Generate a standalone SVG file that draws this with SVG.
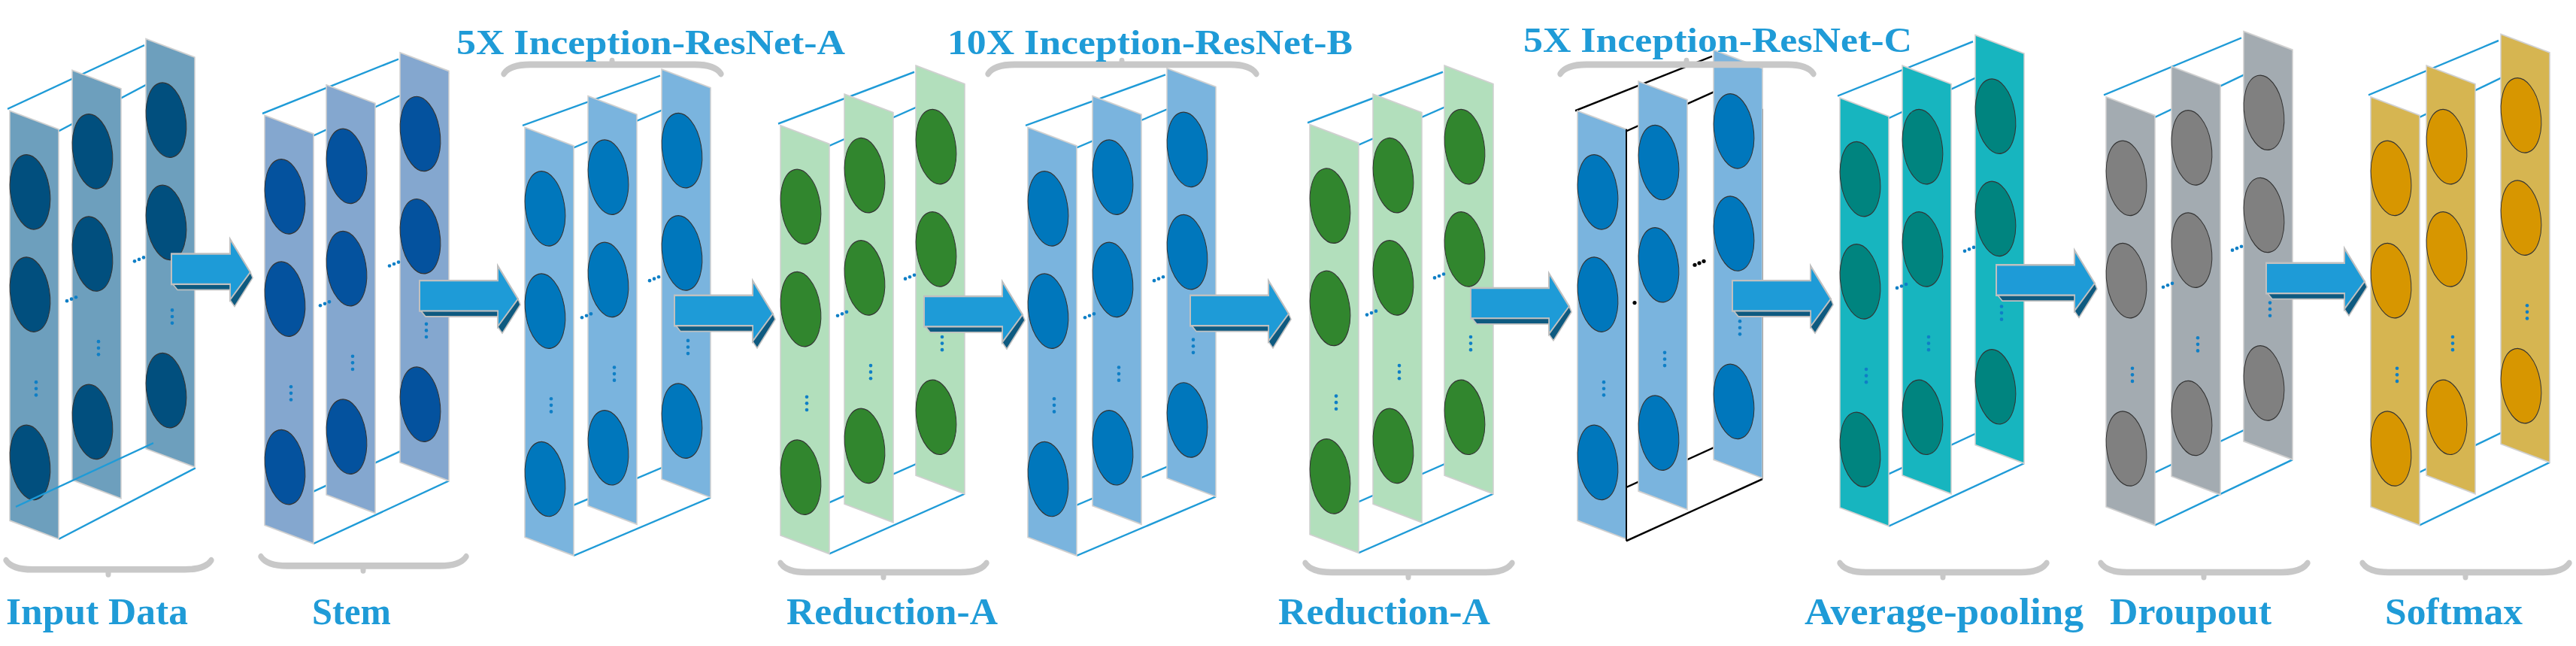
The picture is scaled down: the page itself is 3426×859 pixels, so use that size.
<svg xmlns="http://www.w3.org/2000/svg" xmlns:xlink="http://www.w3.org/1999/xlink" width="3426" height="859" viewBox="0 0 3426 859">
<style>
.lbl{font-family:"Liberation Serif","Times New Roman",serif;font-weight:bold;fill:#1f9bd7;font-size:50px}
.top{font-size:47px}
.wire{stroke:#1f9bd7;stroke-width:2;fill:none}
.wk{stroke:#000;stroke-width:2;fill:none}
.br{stroke:#c8c8c8;stroke-width:7;fill:none;stroke-linecap:round}
.al{fill:#1e9bd7;stroke:#c0c0c0;stroke-width:2}
.ad{fill:#0e5a80;stroke:#c0c0c0;stroke-width:1.5}
</style>
<defs>
<g id="col">
<polygon points="0,0 65,20 65,464 0,444" stroke="#d0d0d0" stroke-width="1.5"/>
<g fill="currentColor" stroke="#333" stroke-width="1">
<ellipse cx="27" cy="88" rx="26" ry="41" transform="rotate(-12 27 88)"/>
<ellipse cx="27" cy="199" rx="26" ry="41" transform="rotate(-12 27 199)"/>
<ellipse cx="27" cy="381" rx="26" ry="41" transform="rotate(-12 27 381)"/>
</g>
<g fill="#0f7fc6"><ellipse cx="35" cy="294" rx="2.3" ry="1.9"/><ellipse cx="35" cy="301" rx="2.3" ry="1.9"/><ellipse cx="35" cy="308" rx="2.3" ry="1.9"/></g>
</g>
<g id="hd" fill="#0f7fc6"><ellipse cx="0" cy="0" rx="2.3" ry="1.9"/><ellipse cx="6" cy="-2" rx="2.3" ry="1.9"/><ellipse cx="12" cy="-4" rx="2.3" ry="1.9"/></g>
<g id="arr">
<polygon class="al" points="0,0 104,0 104,-16 131,20 104,50 104,33 0,33"/>
<polygon class="ad" points="2,33 104,33 104,39 8,39"/>
<polygon class="ad" points="131,20 134,26 110,57 104,50"/>
</g>
<g id="arrS">
<polygon class="al" points="0,0 78,0 78,-16 105,20 78,50 78,33 0,33"/>
<polygon class="ad" points="2,33 78,33 78,39 8,39"/>
<polygon class="ad" points="105,20 108,26 84,57 78,50"/>
</g>
</defs>

<g transform="scale(1,1.2274)">
<!-- Input Data -->
<g id="input" transform="translate(13,120)">
<g class="wire"><line x1="-3" y1="-2" x2="179" y2="-71"/><line x1="65" y1="22" x2="246" y2="-56"/><line x1="65" y1="464" x2="247" y2="387"/></g>
<use href="#col" x="181" y="-78" fill="#6d9fbd" color="#014f7e"/>
<use href="#hd" x="166" y="163"/>
<use href="#col" x="83" y="-44" fill="#6d9fbd" color="#014f7e"/>
<use href="#hd" x="76" y="206"/>
<use href="#col" x="0" y="0" fill="#6d9fbd" color="#014f7e"/>
<line class="wire" x1="8" y1="429" x2="191" y2="360"/>
</g>
<!-- Stem -->
<g id="stem" transform="translate(352,125)">
<g class="wire"><line x1="-3" y1="-2" x2="178" y2="-61"/><line x1="65" y1="22" x2="245" y2="-46"/><line x1="65" y1="464" x2="245" y2="396"/><line x1="8" y1="429" x2="188" y2="361"/></g>
<use href="#col" x="180" y="-68" fill="#84a7cf" color="#04529e"/>
<use href="#hd" x="166" y="163"/>
<use href="#col" x="82" y="-33" fill="#84a7cf" color="#04529e"/>
<use href="#hd" x="74" y="206"/>
<use href="#col" x="0" y="0" fill="#84a7cf" color="#04529e"/>
</g>
<!-- IR-A -->
<g id="irA" transform="translate(698,138)">
<g class="wire"><line x1="-3" y1="-2" x2="180" y2="-56"/><line x1="65" y1="22" x2="247" y2="-41"/><line x1="65" y1="464" x2="247" y2="401"/><line x1="8" y1="429" x2="190" y2="366"/></g>
<use href="#col" x="182" y="-63" fill="#7ab4de" color="#0077bc"/>
<use href="#hd" x="166" y="166"/>
<use href="#col" x="84" y="-34" fill="#7ab4de" color="#0077bc"/>
<use href="#hd" x="76" y="206"/>
<use href="#col" x="0" y="0" fill="#7ab4de" color="#0077bc"/>
</g>
<!-- Reduction-A -->
<g id="redA1" transform="translate(1038,136)">
<g class="wire"><line x1="-3" y1="-2" x2="178" y2="-58"/><line x1="65" y1="22" x2="245" y2="-43"/><line x1="65" y1="464" x2="245" y2="399"/><line x1="8" y1="429" x2="188" y2="364"/></g>
<use href="#col" x="180" y="-65" fill="#b2dfbc" color="#31862e"/>
<use href="#hd" x="166" y="166"/>
<use href="#col" x="85" y="-34" fill="#b2dfbc" color="#31862e"/>
<use href="#hd" x="76" y="206"/>
<use href="#col" x="0" y="0" fill="#b2dfbc" color="#31862e"/>
</g>
<!-- IR-B -->
<g id="irB" transform="translate(1367,138)">
<g class="wire"><line x1="-3" y1="-2" x2="183" y2="-57"/><line x1="65" y1="22" x2="250" y2="-42"/><line x1="65" y1="464" x2="250" y2="400"/><line x1="8" y1="429" x2="193" y2="365"/></g>
<use href="#col" x="185" y="-64" fill="#7ab4de" color="#0077bc"/>
<use href="#hd" x="168" y="166"/>
<use href="#col" x="86" y="-34" fill="#7ab4de" color="#0077bc"/>
<use href="#hd" x="76" y="206"/>
<use href="#col" x="0" y="0" fill="#7ab4de" color="#0077bc"/>
</g>
<!-- Reduction-A 2 -->
<g id="redA2" transform="translate(1742,135)">
<g class="wire"><line x1="-3" y1="-2" x2="177" y2="-57"/><line x1="65" y1="22" x2="244" y2="-42"/><line x1="65" y1="464" x2="244" y2="400"/><line x1="8" y1="429" x2="187" y2="365"/></g>
<use href="#col" x="179" y="-64" fill="#b2dfbc" color="#31862e"/>
<use href="#hd" x="166" y="166"/>
<use href="#col" x="84" y="-33" fill="#b2dfbc" color="#31862e"/>
<use href="#hd" x="76" y="206"/>
<use href="#col" x="0" y="0" fill="#b2dfbc" color="#31862e"/>
</g>
<!-- IR-C -->
<g id="irC" transform="translate(2098,120)">
<g class="wk"><line x1="-3" y1="0" x2="179" y2="-59"/><line x1="65" y1="22" x2="246" y2="-44"/><line x1="65" y1="466" x2="246" y2="399"/><line x1="8" y1="429" x2="189" y2="362"/><line x1="246" y1="-2" x2="246" y2="399"/></g>
<use href="#col" x="181" y="-66" fill="#7ab4de" color="#0077bc"/>
<g fill="#000"><ellipse cx="156" cy="167" rx="2.6" ry="2.1"/><ellipse cx="162" cy="165" rx="2.6" ry="2.1"/><ellipse cx="168" cy="163" rx="2.6" ry="2.1"/></g>
<use href="#col" x="81" y="-32" fill="#7ab4de" color="#0077bc"/>
<ellipse cx="76" cy="208" rx="2.6" ry="2.1" fill="#000"/>
<use href="#col" x="0" y="0" fill="#7ab4de" color="#0077bc"/>
<line class="wk" x1="65" y1="20" x2="65" y2="466"/>
</g>
<!-- Average-pooling -->
<g id="avg" transform="translate(2447,106)">
<g class="wire"><line x1="-3" y1="-2" x2="177" y2="-61"/><line x1="65" y1="22" x2="245" y2="-46"/><line x1="65" y1="464" x2="245" y2="396"/><line x1="8" y1="429" x2="188" y2="361"/></g>
<use href="#col" x="180" y="-68" fill="#17b5bf" color="#00847f"/>
<use href="#hd" x="166" y="166"/>
<use href="#col" x="83" y="-35" fill="#17b5bf" color="#00847f"/>
<use href="#hd" x="76" y="206"/>
<use href="#col" x="0" y="0" fill="#17b5bf" color="#00847f"/>
</g>
<!-- Dropout -->
<g id="dropout" transform="translate(2801,105)">
<g class="wire"><line x1="-3" y1="-2" x2="180" y2="-64"/><line x1="65" y1="22" x2="248" y2="-49"/><line x1="65" y1="464" x2="248" y2="393"/><line x1="8" y1="429" x2="191" y2="358"/></g>
<use href="#col" x="183" y="-71" fill="#a3abb1" color="#808080"/>
<use href="#hd" x="168" y="166"/>
<use href="#col" x="87" y="-33" fill="#a3abb1" color="#808080"/>
<use href="#hd" x="76" y="206"/>
<use href="#col" x="0" y="0" fill="#a3abb1" color="#808080"/>
</g>
<!-- Softmax -->
<g id="softmax" transform="translate(3153,105)">
<g class="wire"><line x1="-3" y1="-2" x2="170" y2="-61"/><line x1="65" y1="22" x2="238" y2="-46"/><line x1="65" y1="464" x2="238" y2="396"/><line x1="8" y1="429" x2="181" y2="361"/></g>
<use href="#col" x="173" y="-68" fill="#d6b551" color="#d79600"/>
<use href="#col" x="74" y="-34" fill="#d6b551" color="#d79600"/>
<use href="#col" x="0" y="0" fill="#d6b551" color="#d79600"/>
</g>

<g id="connectors">
<use href="#arrS" x="228" y="275"/>
<use href="#arr" x="558" y="304"/>
<use href="#arr" x="897" y="320"/>
<use href="#arr" x="1229" y="321"/>
<use href="#arr" x="1583" y="320"/>
<use href="#arr" x="1956" y="312"/>
<use href="#arr" x="2304" y="304"/>
<use href="#arr" x="2655" y="287"/>
<use href="#arr" x="3014" y="285"/>
</g>

<g id="brackets">
<path class="br" d="M8,607 q8,10 35,10 H246 q27,0 35,-10 M144,617 v5"/>
<path class="br" d="M347,603 q8,10 35,10 H585 q27,0 35,-10 M483,613 v5"/>
<path class="br" d="M1038,610 q8,10 35,10 H1277 q27,0 35,-10 M1175,620 v5"/>
<path class="br" d="M1736,610 q8,10 35,10 H1976 q27,0 35,-10 M1873,620 v5"/>
<path class="br" d="M2447,610 q8,10 35,10 H2687 q27,0 35,-10 M2584,620 v5"/>
<path class="br" d="M2794,610 q8,10 35,10 H3034 q27,0 35,-10 M2931,620 v5"/>
<path class="br" d="M3142,610 q8,10 35,10 H3382 q27,0 35,-10 M3279,620 v5"/>
<path class="br" d="M670,80 q8,-10 35,-10 H924 q27,0 35,10 M814,70 v-4"/>
<path class="br" d="M1314,80 q8,-10 35,-10 H1636 q27,0 35,10 M1492,70 v-4"/>
<path class="br" d="M2075,80 q8,-10 35,-10 H2377 q27,0 35,10 M2243,70 v-4"/>
</g>
</g>

<g id="labels">
<text class="lbl" x="8" y="830" textLength="242" lengthAdjust="spacingAndGlyphs">Input Data</text>
<text class="lbl" x="415" y="830" textLength="105" lengthAdjust="spacingAndGlyphs">Stem</text>
<text class="lbl" x="1046" y="830" textLength="281" lengthAdjust="spacingAndGlyphs">Reduction-A</text>
<text class="lbl" x="1700" y="830" textLength="282" lengthAdjust="spacingAndGlyphs">Reduction-A</text>
<text class="lbl" x="2400" y="830" textLength="371" lengthAdjust="spacingAndGlyphs">Average-pooling</text>
<text class="lbl" x="2806" y="830" textLength="215" lengthAdjust="spacingAndGlyphs">Droupout</text>
<text class="lbl" x="3172" y="830" textLength="183" lengthAdjust="spacingAndGlyphs">Softmax</text>
<text class="lbl top" x="607" y="72" textLength="517" lengthAdjust="spacingAndGlyphs">5X Inception-ResNet-A</text>
<text class="lbl top" x="1260" y="72" textLength="539" lengthAdjust="spacingAndGlyphs">10X Inception-ResNet-B</text>
<text class="lbl top" x="2026" y="69" textLength="517" lengthAdjust="spacingAndGlyphs">5X Inception-ResNet-C</text>
</g>
</svg>
